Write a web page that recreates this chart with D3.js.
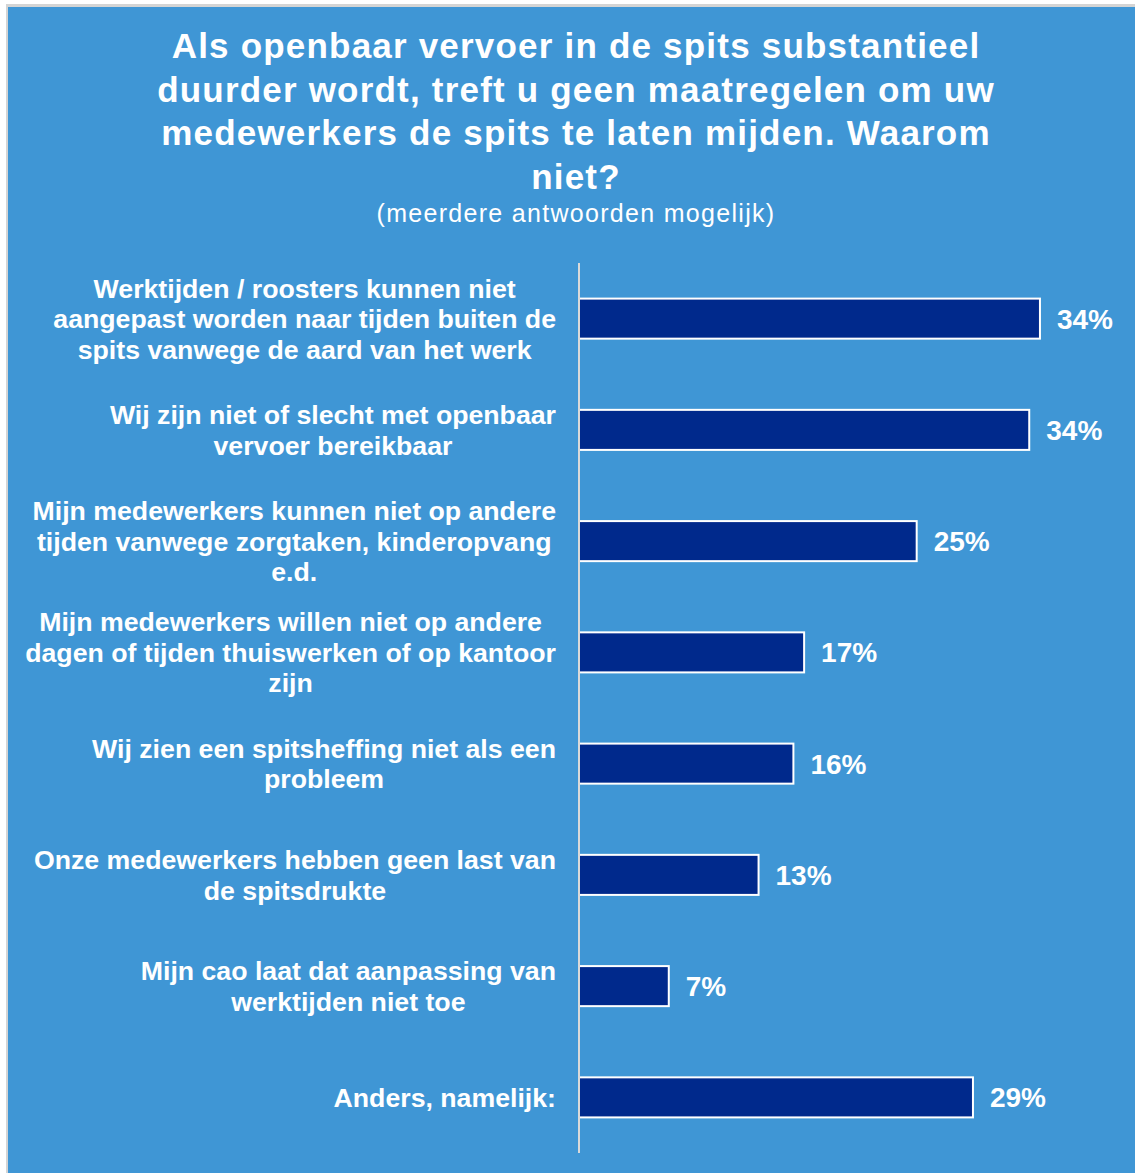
<!DOCTYPE html>
<html>
<head>
<meta charset="utf-8">
<script src="https://cdn.jsdelivr.net/npm/d3@7"></script>
<style>
  html, body { margin: 0; padding: 0; background: #ffffff; }
  svg { display: block; font-family: "Liberation Sans", Arial, sans-serif; }
</style>
</head>
<body>
<svg id="chart" width="1135" height="1173"></svg>
<script>
// Answer categories, one entry per line of the wrapped label
const categories = [
  ["Werktijden / roosters kunnen niet", "aangepast worden naar tijden buiten de", "spits vanwege de aard van het werk"],
  ["Wij zijn niet of slecht met openbaar", "vervoer bereikbaar"],
  ["Mijn medewerkers kunnen niet op andere", "tijden vanwege zorgtaken, kinderopvang", "e.d."],
  ["Mijn medewerkers willen niet op andere", "dagen of tijden thuiswerken of op kantoor", "zijn"],
  ["Wij zien een spitsheffing niet als een", "probleem"],
  ["Onze medewerkers hebben geen last van", "de spitsdrukte"],
  ["Mijn cao laat dat aanpassing van", "werktijden niet toe"],
  ["Anders, namelijk:"]
];

// Share of respondents (%)
const values = [34.4, 33.6, 25.2, 16.8, 16.0, 13.4, 6.7, 29.4];

const titleLines = [
  "Als openbaar vervoer in de spits substantieel",
  "duurder wordt, treft u geen maatregelen om uw",
  "medewerkers de spits te laten mijden. Waarom",
  "niet?"
];
const subtitle = "(meerdere antwoorden mogelijk)";

const svg = d3.select("#chart");
const W = 1135, H = 1173;

// panel with a thin grey frame on the top and left
svg.append("rect").attr("x", 6).attr("y", 4).attr("width", W - 6).attr("height", H - 4).attr("fill", "#d4d4d4");
svg.append("rect").attr("x", 8).attr("y", 7).attr("width", W - 8).attr("height", H - 7).attr("fill", "#3f96d5");

// title
const cx = 576;
svg.append("g").selectAll("text").data(titleLines).join("text")
  .attr("x", cx)
  .attr("y", (d, i) => 58 + i * 43.5)
  .attr("text-anchor", "middle")
  .attr("fill", "#ffffff")
  .attr("font-weight", "bold")
  .attr("font-size", 35)
  .attr("letter-spacing", 1.2)
  .text(d => d);

svg.append("text")
  .attr("x", cx).attr("y", 222)
  .attr("text-anchor", "middle")
  .attr("fill", "#ffffff")
  .attr("font-size", 25)
  .attr("letter-spacing", 1.3)
  .text(subtitle);

// scales
const x0 = 579;
const x = d3.scaleLinear().domain([0, 40]).range([x0, x0 + 536]);
const y = d3.scaleBand()
  .domain(d3.range(categories.length))
  .range([263, 1153])
  .paddingInner(0.64)
  .paddingOuter(0.32);

// bars
svg.append("g").selectAll("rect").data(values).join("rect")
  .attr("x", x(0))
  .attr("y", (d, i) => y(i))
  .attr("width", d => x(d) - x(0))
  .attr("height", y.bandwidth())
  .attr("fill", "#00298c")
  .attr("stroke", "#ffffff")
  .attr("stroke-width", 2);

// category axis line
svg.append("line")
  .attr("x1", x(0)).attr("x2", x(0))
  .attr("y1", y.range()[0]).attr("y2", y.range()[1])
  .attr("stroke", "#d9d9d9")
  .attr("stroke-width", 2);

// value labels
const fmt = d => d3.format(".0f")(d) + "%";
svg.append("g").selectAll("text").data(values).join("text")
  .attr("x", d => x(d) + 17)
  .attr("y", (d, i) => y(i) + y.bandwidth() / 2)
  .attr("dy", "0.36em")
  .attr("fill", "#ffffff")
  .attr("font-weight", "bold")
  .attr("font-size", 28)
  .text(fmt);

// category labels: block centred, widest line flush against x = 556
const lineH = 30.5;
const labelRight = 556;
const lab = svg.append("g");
categories.forEach((lines, i) => {
  const cy = y(i) + y.bandwidth() / 2;
  const g = lab.append("g");
  const t = g.selectAll("text").data(lines).join("text")
    .attr("y", (d, j) => cy + (j - (lines.length - 1) / 2) * lineH)
    .attr("dy", "0.36em")
    .attr("text-anchor", "middle")
    .attr("fill", "#ffffff")
    .attr("font-weight", "bold")
    .attr("font-size", 26.7)
    .text(d => d);
  let maxW = 0;
  t.each(function () { maxW = Math.max(maxW, this.getComputedTextLength()); });
  t.attr("x", labelRight - maxW / 2);
});
</script>
</body>
</html>
